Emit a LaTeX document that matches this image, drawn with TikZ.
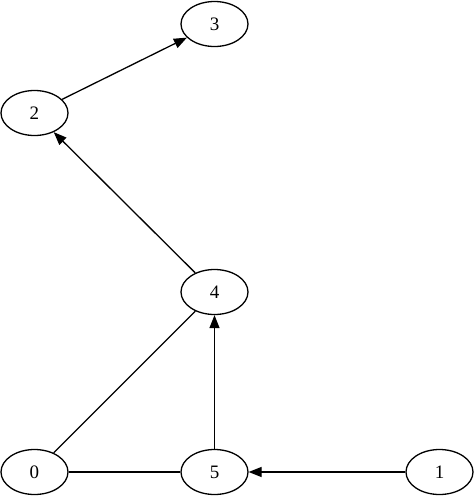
\documentclass[tikz,border=0pt]{standalone}
\usepackage{fontspec}
\setmainfont{Liberation Serif}
\usetikzlibrary{arrows, arrows.meta}
\usetikzlibrary{shapes.geometric}
\tikzset{
  vtx/.style={ellipse, draw, line width=1.3pt, inner sep=0pt, minimum width=67pt, minimum height=45pt, font=\fontsize{19}{22}\selectfont},
  arc/.style={line width=1.3pt, -{Triangle[length=13pt, width=10pt]}},
  edge/.style={line width=1.3pt}
}

\begin{document}
\begin{tikzpicture}[x=1pt, y=-1pt]
      \useasboundingbox (0,0) rectangle (474,496);
      \node[vtx] (3) at (214.5,24) {3};
      \node[vtx] (2) at (34.5,113) {2};
      \node[vtx] (4) at (214.5,292) {4};
      \node[vtx] (0) at (34.5,472) {0};
      \node[vtx] (5) at (214.5,472) {5};
      \node[vtx] (1) at (439.5,472) {1};

      \draw[arc] (2) -- (3);
      \draw[arc] (4) -- (2);
      \draw[arc] (5) -- (4);
      \draw[arc] (1) -- (5);
      \draw[edge] (0) -- (4);
      \draw[edge] (0) -- (5);
    \end{tikzpicture}
\end{document}
